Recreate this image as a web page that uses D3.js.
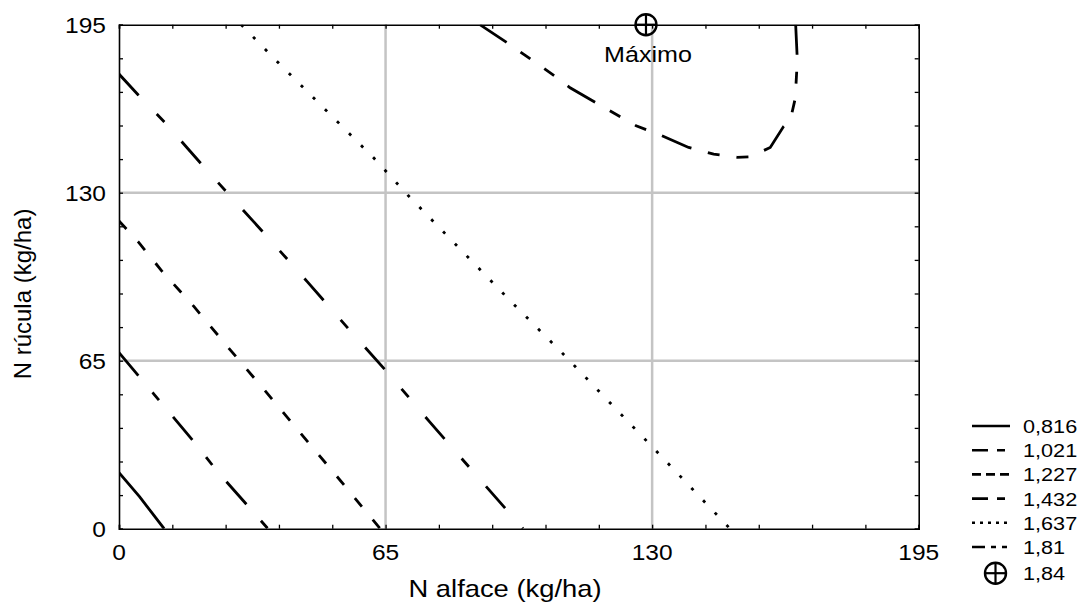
<!DOCTYPE html>
<html>
<head>
<meta charset="utf-8">
<script src="https://cdn.jsdelivr.net/npm/d3@7"></script>
<style>
  body { margin: 0; background: #fff; }
  text { font-family: "Liberation Sans", Arial, Helvetica, sans-serif; fill: #000; }
</style>
</head>
<body>
<div class="container"></div>
<script>
// axis ticks (labelled) - N alface on x, N rucula on y
const xTicks = [0, 65, 130, 195];
const yTicks = [0, 65, 130, 195];
const minorStep = 13;

const levels = ["0,816", "1,021", "1,227", "1,432", "1,637", "1,81"];
const c0816 = [[0, 21.7], [5, 12.4], [11, 0]];
const c1021 = [[0, 68.1], [8.5, 52.1], [18.9, 32.4], [24, 22.1], [32.9, 6.2], [36.3, 0]];
const c1227 = [[0, 119.1], [4.9, 110.6], [10.6, 99.4], [18.3, 85.9], [26.8, 69.8], [35.8, 53],
               [44.3, 36.9], [53.2, 20.1], [63.7, 0]];
const c1432 = [[0, 175.9], [4.7, 167.8], [11.4, 156.8], [20.3, 140.7], [26.4, 130], [35.8, 113.6],
               [45.9, 95.6], [56.7, 76], [66, 59.5], [75.7, 41.4], [86.4, 22], [95.4, 5.7], [98.5, 0]];
const c1637 = [[29.8, 195], [38.6, 180.7], [50.4, 162], [62.2, 143.3], [70.4, 129.1], [96.2, 86.9],
               [108, 68.1], [130.8, 30.4], [149, 0]];
const c181 = [[88, 195], [94.7, 188], [100.7, 181.3], [106.3, 175.1], [110, 170.6], [116.5, 164.6],
              [126.1, 155.9], [132, 152.3], [138.9, 147.5], [145, 144.9], [150.7, 143.7], [153.9, 143.9],
              [158.8, 147.5], [162, 155.5], [163.7, 158.1], [164.9, 166.5], [165.4, 181.3], [165, 195]];
const contours = [c0816, c1021, c1227, c1432, c1637, c181];

// maximum of the surface
const maxPoint = [128.5, 195];
const maxLabel = "1,84";

// line styles: dash in plot / dash in legend
const plotDash = ["none", "30,22,10,22", "11,17", "29,26,11,26", "3,14", "32,17,12,17,12,17"];
const legendDash = ["none", "16,9,8,9", "9,5", "16,9,8,9", "3,5", "13,6,5,6,5,6"];

const width = 1086, height = 607;
const margin = { left: 119, right: 167.3, top: 24.7, bottom: 78.3 };
const innerW = width - margin.left - margin.right;
const innerH = height - margin.top - margin.bottom;
const stretch = 1.14; // the original lettering is a bit wide

const svg = d3.select(".container")
  .append("svg")
  .attr("width", width)
  .attr("height", height);

const x = d3.scaleLinear().domain([0, 195]).range([margin.left, margin.left + innerW]);
const y = d3.scaleLinear().domain([0, 195]).range([margin.top + innerH, margin.top]);

// text helper: places a horizontally widened label
const label = (g, tx, ty, str, size, anchor) => {
  g.append("text")
    .attr("transform", `translate(${tx},${ty}) scale(${stretch},1)`)
    .attr("text-anchor", anchor || "start")
    .style("font-size", size + "px")
    .text(str);
};

svg.append("clipPath").attr("id", "plot-clip")
  .append("rect")
  .attr("x", margin.left).attr("y", margin.top)
  .attr("width", innerW).attr("height", innerH);

// grid lines at the inner labelled ticks
const grid = svg.append("g");
grid.selectAll("line.gx")
  .data(xTicks.slice(1, -1))
  .enter().append("line")
  .attr("x1", d => x(d)).attr("x2", d => x(d))
  .attr("y1", y(0)).attr("y2", y(195))
  .attr("stroke", "#c4c4c4").attr("stroke-width", 2.5);
grid.selectAll("line.gy")
  .data(yTicks.slice(1, -1))
  .enter().append("line")
  .attr("y1", d => y(d)).attr("y2", d => y(d))
  .attr("x1", x(0)).attr("x2", x(195))
  .attr("stroke", "#c4c4c4").attr("stroke-width", 2.5);

// contour lines
const line = d3.line().x(d => x(d[0])).y(d => y(d[1]));
svg.append("g")
  .attr("clip-path", "url(#plot-clip)")
  .selectAll("path")
  .data(contours)
  .enter().append("path")
  .attr("d", line)
  .attr("fill", "none")
  .attr("stroke", "#000")
  .attr("stroke-width", 2.8)
  .attr("stroke-dasharray", (d, i) => plotDash[i]);

// frame with inward minor ticks on all four sides
const minor = d3.range(0, 196, minorStep);
const tickLen = 4;
const axes = svg.append("g");
axes.append("g").attr("transform", `translate(0,${y(0)})`)
  .call(d3.axisTop(x).tickValues(minor).tickSize(tickLen).tickFormat(""));
axes.append("g").attr("transform", `translate(0,${y(195)})`)
  .call(d3.axisBottom(x).tickValues(minor).tickSize(tickLen).tickFormat(""));
axes.append("g").attr("transform", `translate(${x(0)},0)`)
  .call(d3.axisRight(y).tickValues(minor).tickSize(tickLen).tickFormat(""));
axes.append("g").attr("transform", `translate(${x(195)},0)`)
  .call(d3.axisLeft(y).tickValues(minor).tickSize(tickLen).tickFormat(""));
axes.selectAll(".domain").attr("stroke", "#000").attr("stroke-width", 1.6);
axes.selectAll(".tick line").attr("stroke", "#000").attr("stroke-width", 1.3);

// tick labels
const tickLabels = svg.append("g");
xTicks.forEach(d => label(tickLabels, x(d), y(0) + 31, d, 21.5, "middle"));
yTicks.forEach(d => label(tickLabels, x(0) - 13, y(d) + 8, d, 21.5, "end"));

// axis titles
label(svg, 505, 597, "N alface (kg/ha)", 24, "middle");
svg.append("text")
  .attr("transform", "translate(31,294) rotate(-90)")
  .attr("text-anchor", "middle")
  .style("font-size", "24px")
  .text("N rúcula (kg/ha)");

// circle-plus marker
const marker = (g, cx, cy, r) => {
  g.append("circle").attr("cx", cx).attr("cy", cy).attr("r", r)
    .attr("fill", "none").attr("stroke", "#000").attr("stroke-width", 2.4);
  g.append("line").attr("x1", cx - r).attr("x2", cx + r).attr("y1", cy).attr("y2", cy)
    .attr("stroke", "#000").attr("stroke-width", 2.2);
  g.append("line").attr("x1", cx).attr("x2", cx).attr("y1", cy - r).attr("y2", cy + r)
    .attr("stroke", "#000").attr("stroke-width", 2.2);
};
marker(svg.append("g"), x(maxPoint[0]), y(maxPoint[1]), 10.5);
label(svg, x(maxPoint[0]) + 2, y(maxPoint[1]) + 37, "Máximo", 22, "middle");

// legend
const legend = svg.append("g").attr("id", "legend");
const rowY = i => 426 + i * 24.2;
legend.selectAll("line")
  .data(levels)
  .enter().append("line")
  .attr("x1", 972).attr("x2", 1010)
  .attr("y1", (d, i) => rowY(i)).attr("y2", (d, i) => rowY(i))
  .attr("stroke", "#000").attr("stroke-width", 2.6)
  .attr("stroke-dasharray", (d, i) => legendDash[i]);
levels.concat([maxLabel]).forEach((d, i) =>
  label(legend, 1023, rowY(i) + 7 + (i === levels.length ? 2 : 0), d, 19));
marker(legend.append("g"), 995.5, rowY(levels.length) + 2, 10.5);
</script>
</body>
</html>
